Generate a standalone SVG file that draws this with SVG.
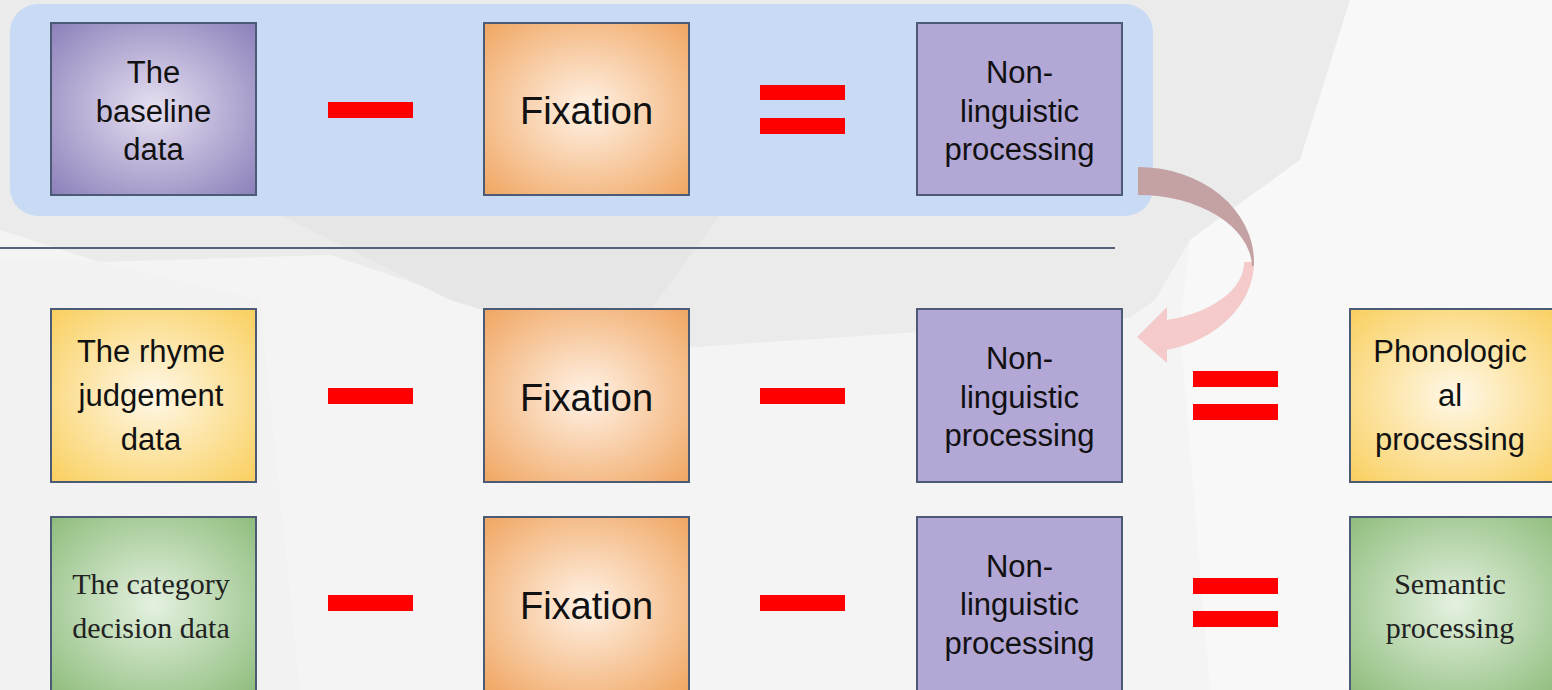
<svg xmlns="http://www.w3.org/2000/svg" width="1552" height="690" viewBox="0 0 1552 690">
<defs>
<radialGradient id="gPurple" cx="50%" cy="50%" r="70%"><stop offset="0" stop-color="#e6e0f1"/><stop offset="1" stop-color="#8c80ba"/></radialGradient>
<radialGradient id="gOrange" cx="50%" cy="50%" r="70%"><stop offset="0" stop-color="#fff2e6"/><stop offset="1" stop-color="#f0a662"/></radialGradient>
<radialGradient id="gYellow" cx="50%" cy="50%" r="70%"><stop offset="0" stop-color="#fff8e8"/><stop offset="1" stop-color="#f9cf5e"/></radialGradient>
<radialGradient id="gGreen" cx="50%" cy="50%" r="70%"><stop offset="0" stop-color="#e4f1e0"/><stop offset="1" stop-color="#8fbd7d"/></radialGradient>
<style>
.box{stroke:#4b5a75;stroke-width:2}
.sans{font-family:"Liberation Sans",Arial,sans-serif;fill:#111;text-anchor:middle}
.serif{font-family:"Liberation Serif","Times New Roman",serif;fill:#222;text-anchor:middle;font-size:30px}
.t{font-size:31px}
.fx{font-size:38px}
.op{fill:#ff0000}
</style>
</defs>
<!-- background -->
<rect x="0" y="0" width="1552" height="690" fill="#f4f4f5"/>
<polygon points="0,0 1350,0 1300,160 1190,240 1155,300 1130,318 620,352 330,255 100,262 0,230" fill="#ebebec"/>
<polygon points="280,215 720,215 620,352 450,300" fill="#e6e6e7"/>
<polygon points="1350,0 1552,0 1552,690 1210,690 1180,330 1190,240 1300,160" fill="#f8f8f9"/>
<polygon points="0,262 100,262 260,300 300,690 0,690" fill="#f2f2f3"/>
<!-- panel -->
<rect x="10" y="4" width="1143" height="212" rx="28" fill="#c9daf5"/>
<line x1="0" y1="248" x2="1115" y2="248" stroke="#536179" stroke-width="2"/>

<g id="n-baseline"><rect class="box" x="51" y="23" width="205" height="172" fill="url(#gPurple)"/>
<text class="sans t" x="153.5" y="83">The</text><text class="sans t" x="153.5" y="122">baseline</text><text class="sans t" x="153.5" y="160">data</text></g>
<g id="n-fix1"><rect class="box" x="484" y="23" width="205" height="172" fill="url(#gOrange)"/>
<text class="sans fx" x="586.5" y="124">Fixation</text></g>
<g id="n-nonling1"><rect class="box" x="917" y="23" width="205" height="172" fill="#b3a7d6"/>
<text class="sans t" x="1019.5" y="83">Non-</text><text class="sans t" x="1019.5" y="122">linguistic</text><text class="sans t" x="1019.5" y="160">processing</text></g>

<g id="n-rhyme"><rect class="box" x="51" y="309" width="205" height="173" fill="url(#gYellow)"/>
<text class="sans t" x="151" y="362">The rhyme</text><text class="sans t" x="151" y="406">judgement</text><text class="sans t" x="151" y="450">data</text></g>
<g id="n-fix2"><rect class="box" x="484" y="309" width="205" height="173" fill="url(#gOrange)"/>
<text class="sans fx" x="586.5" y="411">Fixation</text></g>
<g id="n-nonling2"><rect class="box" x="917" y="309" width="205" height="173" fill="#b3a7d6"/>
<text class="sans t" x="1019.5" y="369">Non-</text><text class="sans t" x="1019.5" y="408">linguistic</text><text class="sans t" x="1019.5" y="446">processing</text></g>
<g id="n-phon"><rect class="box" x="1350" y="309" width="210" height="173" fill="url(#gYellow)"/>
<text class="sans t" x="1450" y="362">Phonologic</text><text class="sans t" x="1450" y="406">al</text><text class="sans t" x="1450" y="450">processing</text></g>

<g id="n-category"><rect class="box" x="51" y="517" width="205" height="176" fill="url(#gGreen)"/>
<text class="serif" x="151" y="594">The category</text><text class="serif" x="151" y="638">decision data</text></g>
<g id="n-fix3"><rect class="box" x="484" y="517" width="205" height="176" fill="url(#gOrange)"/>
<text class="sans fx" x="586.5" y="619">Fixation</text></g>
<g id="n-nonling3"><rect class="box" x="917" y="517" width="205" height="176" fill="#b3a7d6"/>
<text class="sans t" x="1019.5" y="577">Non-</text><text class="sans t" x="1019.5" y="615">linguistic</text><text class="sans t" x="1019.5" y="654">processing</text></g>
<g id="n-sem"><rect class="box" x="1350" y="517" width="210" height="176" fill="url(#gGreen)"/>
<text class="serif" x="1450" y="594">Semantic</text><text class="serif" x="1450" y="638">processing</text></g>

<g id="operators">
<rect class="op" x="328" y="102" width="85" height="16"/>
<rect class="op" x="760" y="85" width="85" height="15"/><rect class="op" x="760" y="118" width="85" height="16"/>
<rect class="op" x="328" y="388" width="85" height="16"/>
<rect class="op" x="760" y="388" width="85" height="16"/>
<rect class="op" x="1193" y="371" width="85" height="16"/><rect class="op" x="1193" y="404" width="85" height="16"/>
<rect class="op" x="328" y="595" width="85" height="16"/>
<rect class="op" x="760" y="595" width="85" height="16"/>
<rect class="op" x="1193" y="578" width="85" height="16"/><rect class="op" x="1193" y="611" width="85" height="16"/>
</g>

<g id="connectors">
<path d="M1254,262 A116,91 0 0 1 1167,350 L1167,363 L1137,337 L1167,307 L1167,320 A106,60 0 0 0 1244,262 Z" fill="#f4caca"/>
<path d="M1138,167 A116,95 0 0 1 1254,262 L1254,266 L1252,266 A114,73 0 0 0 1138,195 Z" fill="#c4a2a3"/>
</g>
</svg>
